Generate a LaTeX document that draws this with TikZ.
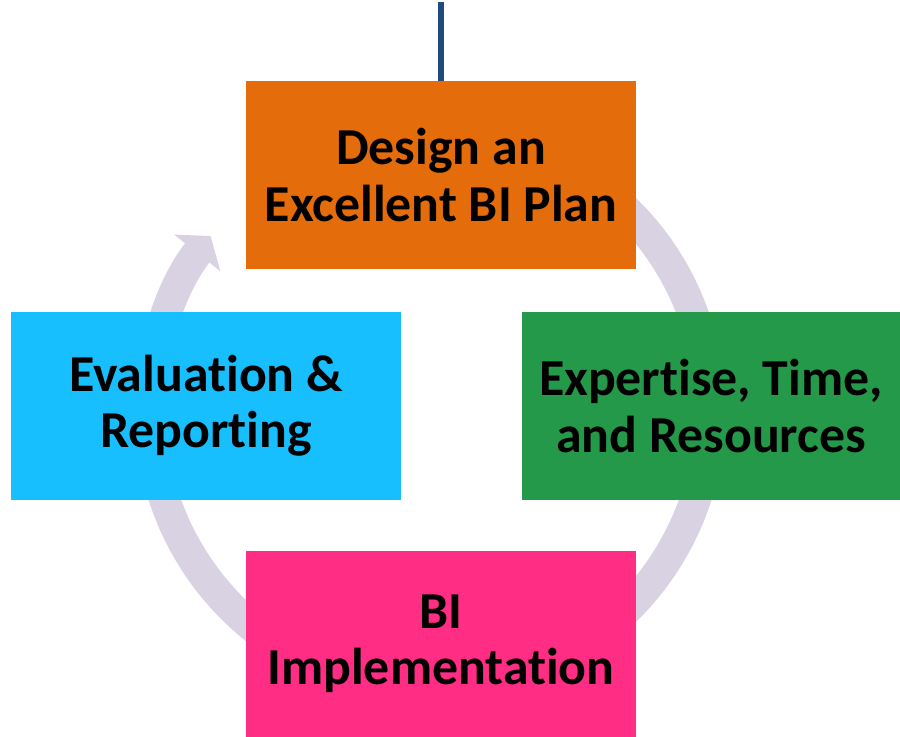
\documentclass[tikz,border=0pt]{standalone}
\usepackage{fontspec}
\setmainfont{Carlito}[Ligatures={NoCommon,NoContextual}]
\usepackage{xcolor}
\usepackage{tikz}
\usetikzlibrary{arrows.meta,calc,positioning}

\definecolor{planorange}{HTML}{E46C0A}
\definecolor{resgreen}{HTML}{25994A}
\definecolor{evalcyan}{HTML}{17BFFF}
\definecolor{implpink}{HTML}{FF2D83}
\definecolor{ringgray}{HTML}{D8D2E2}
\definecolor{stemblue}{HTML}{1F4A7C}

\begin{document}
\begin{tikzpicture}[x=0.02cm,y=0.02cm]

\useasboundingbox (0,0) rectangle (900,737);

\tikzstyle{stepbox} = [rectangle, inner sep=0pt, minimum height=3.76cm, minimum width=7.8cm, align=center, font=\bfseries\fontsize{29.5}{32}\selectfont]
\tikzstyle{cycle} = [ringgray, line width=0.62cm, -{Triangle[width=1.16cm,length=0.43cm]}]

% the ring behind the boxes
\coordinate (mid) at (430,327);
\draw [cycle] (mid) ++(60:280) arc[start angle=60, end angle=-218.4, radius=280];

\node (plan) [stepbox,fill=planorange] at (441,562) {Design an\\Excellent BI Plan};
\node (res) [stepbox,fill=resgreen,minimum width=7.56cm] at (711,331) {Expertise, Time,\\and Resources};
\node (impl) [stepbox,fill=implpink,minimum height=3.72cm] at (441,93) {BI\\Implementation};
\node (eval) [stepbox,fill=evalcyan] at (206,331) {Evaluation \&\\Reporting};

\coordinate (top) at (441,735);
\draw [stemblue,line width=0.12cm] (plan.north) -- (top);

\end{tikzpicture}
\end{document}
